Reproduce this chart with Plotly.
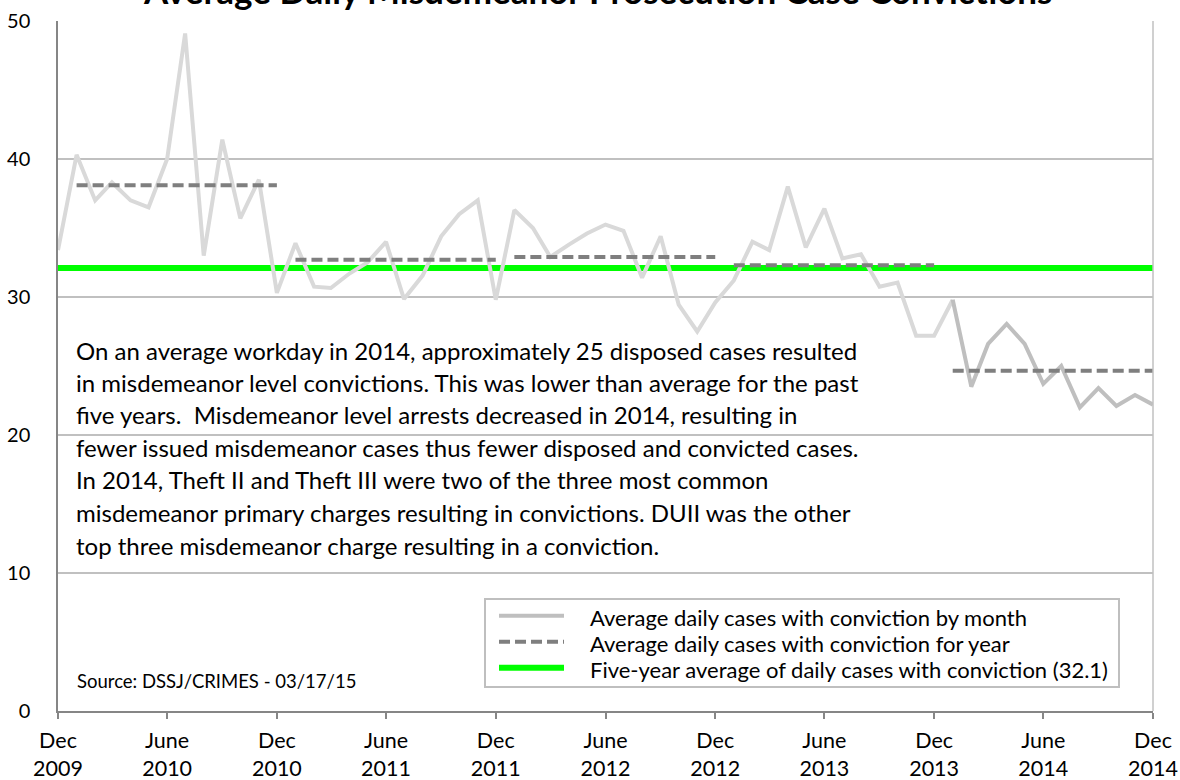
import pandas as pd
import plotly.graph_objects as go

# ── Data ─────────────────────────────────────────────────────────────────────
MONTHS = pd.date_range('2009-12-01', '2014-12-01', freq='MS')

MONTHLY_CASES = [
    33.4, 40.3, 37.0, 38.3, 37.0, 36.5, 40.0, 49.1, 33.0, 41.4, 35.7, 38.5,
    30.3, 33.9, 30.75, 30.65, 31.7, 32.5, 34.0, 29.85, 31.55, 34.4, 36.0, 37.0,
    29.8, 36.3, 35.0, 32.9, 33.8, 34.6, 35.25, 34.8, 31.4, 34.4, 29.45, 27.5,
    29.6, 31.2, 34.0, 33.4, 38.0, 33.6, 36.4, 32.8, 33.1, 30.75, 31.05, 27.2,
    27.2, 29.8, 23.5, 26.6, 28.05, 26.6, 23.7, 25.0, 22.0, 23.4, 22.1, 22.9, 22.2,
]
YEARS = [2010, 2011, 2012, 2013, 2014]
YEAR_AVG = [38.1, 32.7, 32.9, 32.3, 24.65]
FIVE_YEAR_AVG = 32.1

TICK_VALS = MONTHS[::6]
TICK_TEXT = [f"{'Dec' if d.month == 12 else 'June'}<br>{d.year}" for d in TICK_VALS]

NOTE_LINES = [
    'On an average workday in 2014, approximately 25 disposed cases resulted',
    'in misdemeanor level convictions. This was lower than average for the past',
    'five years.  Misdemeanor level arrests decreased in 2014, resulting in',
    'fewer issued misdemeanor cases thus fewer disposed and convicted cases.',
    'In 2014, Theft II and Theft III were two of the three most common',
    'misdemeanor primary charges resulting in convictions. DUII was the other',
    'top three misdemeanor charge resulting in a conviction.',
]
LEGEND_LABELS = [
    'Average daily cases with conviction by month',
    'Average daily cases with conviction for year',
    'Five-year average of daily cases with conviction (32.1)',
]

FONT = 'Lato, Calibri, sans-serif'
LIGHT, DARK_MONTH, DASH_C, GREEN = '#d9d9d9', '#bfbfbf', '#7f7f7f', '#00ff00'

W, H = 1180, 780
# plot area in pixels
L, R, T, B = 58, 1153, 21, 711


def px(x):
    return (x - L) / (R - L)


def py(y):
    return (B - y) / (B - T)


# ── Traces ───────────────────────────────────────────────────────────────────
fig = go.Figure()

fig.add_trace(go.Scatter(x=MONTHS, y=[FIVE_YEAR_AVG] * len(MONTHS), mode='lines',
                         line=dict(color=GREEN, width=6)))

fig.add_trace(go.Scatter(x=MONTHS[:50], y=MONTHLY_CASES[:50], mode='lines',
                         line=dict(color=LIGHT, width=4)))
fig.add_trace(go.Scatter(x=MONTHS[49:], y=MONTHLY_CASES[49:], mode='lines',
                         line=dict(color=DARK_MONTH, width=4)))

yx, yy = [], []
for yr, avg in zip(YEARS, YEAR_AVG):
    yx += list(pd.date_range(f'{yr}-01-01', f'{yr}-12-01', freq='MS')) + [None]
    yy += [avg] * 12 + [None]
fig.add_trace(go.Scatter(x=yx, y=yy, mode='lines', connectgaps=False,
                         line=dict(color=DASH_C, width=4, dash='11px,5px')))

# ── Text box / legend / notes ────────────────────────────────────────────────
shapes = [
    dict(type='rect', xref='paper', yref='paper', x0=px(75), x1=px(890),
         y0=py(562), y1=py(338), fillcolor='white', line_width=0, layer='between'),
    dict(type='line', xref='paper', yref='paper', x0=1, x1=1, y0=0, y1=1,
         line=dict(color='#c0c0c0', width=1.5)),
    dict(type='rect', xref='paper', yref='paper', x0=px(485), x1=px(1119),
         y0=py(687), y1=py(599), fillcolor='white', line=dict(color='#bfbfbf', width=2)),
]
leg_styles = [dict(color='#bfbfbf', width=4), dict(color=DASH_C, width=4, dash='11px,5px'),
              dict(color=GREEN, width=6)]
leg_y = [615.7, 641.7, 667.7]
for yv, st in zip(leg_y, leg_styles):
    shapes.append(dict(type='line', xref='paper', yref='paper', x0=px(499), x1=px(564),
                       y0=py(yv), y1=py(yv), line=st))

annotations = [
    dict(text='<b>Average Daily Misdemeanor Prosecution Case Convictions</b>',
         xref='paper', yref='paper', x=px(597), y=py(13), xanchor='center',
         yanchor='bottom', showarrow=False, font=dict(family=FONT, size=35, color='#000')),
    dict(text='Source: DSSJ/CRIMES - 03/17/15', xref='paper', yref='paper',
         x=px(75), y=py(681), xanchor='left', yanchor='middle', showarrow=False,
         font=dict(family=FONT, size=18.5, color='#000')),
]
note_y = [350, 382, 414, 447, 479, 512, 545]
for t, yv in zip(NOTE_LINES, note_y):
    annotations.append(dict(text=t, xref='paper', yref='paper', x=px(74), y=py(yv),
                            xanchor='left', yanchor='middle', showarrow=False,
                            font=dict(family=FONT, size=24, color='#000')))
for t, yv in zip(LEGEND_LABELS, leg_y):
    annotations.append(dict(text=t, xref='paper', yref='paper', x=px(588), y=py(yv + 2),
                            xanchor='left', yanchor='middle', showarrow=False,
                            font=dict(family=FONT, size=22, color='#000')))

# ── Layout ───────────────────────────────────────────────────────────────────
fig.update_layout(
    width=W, height=H, showlegend=False,
    margin=dict(l=L, r=W - R, t=T, b=H - B),
    paper_bgcolor='white', plot_bgcolor='white',
    font=dict(family=FONT, size=20, color='#000'),
    shapes=shapes, annotations=annotations,
    xaxis=dict(type='date', range=[MONTHS[0], MONTHS[-1]], showgrid=False, automargin=False,
               tickvals=TICK_VALS, ticktext=TICK_TEXT, ticks='outside', ticklen=6,
               tickwidth=1.5, tickcolor='#868686', showline=True, linecolor='#868686',
               linewidth=1.5, tickfont=dict(size=21.5), ticklabelstandoff=3),
    yaxis=dict(range=[0, 50], dtick=10, showgrid=True, gridcolor='#c0c0c0', gridwidth=1.5,
               showline=True, linecolor='#868686', linewidth=1.5, zeroline=False,
               automargin=False, ticks='', tickfont=dict(size=20), ticklabelstandoff=22),
)

# drop the default 8px page margin so the figure sits at the window's top-left
fig.write_html('out.html', config={'displayModeBar': False},
               post_script="document.body.style.margin='0';")
